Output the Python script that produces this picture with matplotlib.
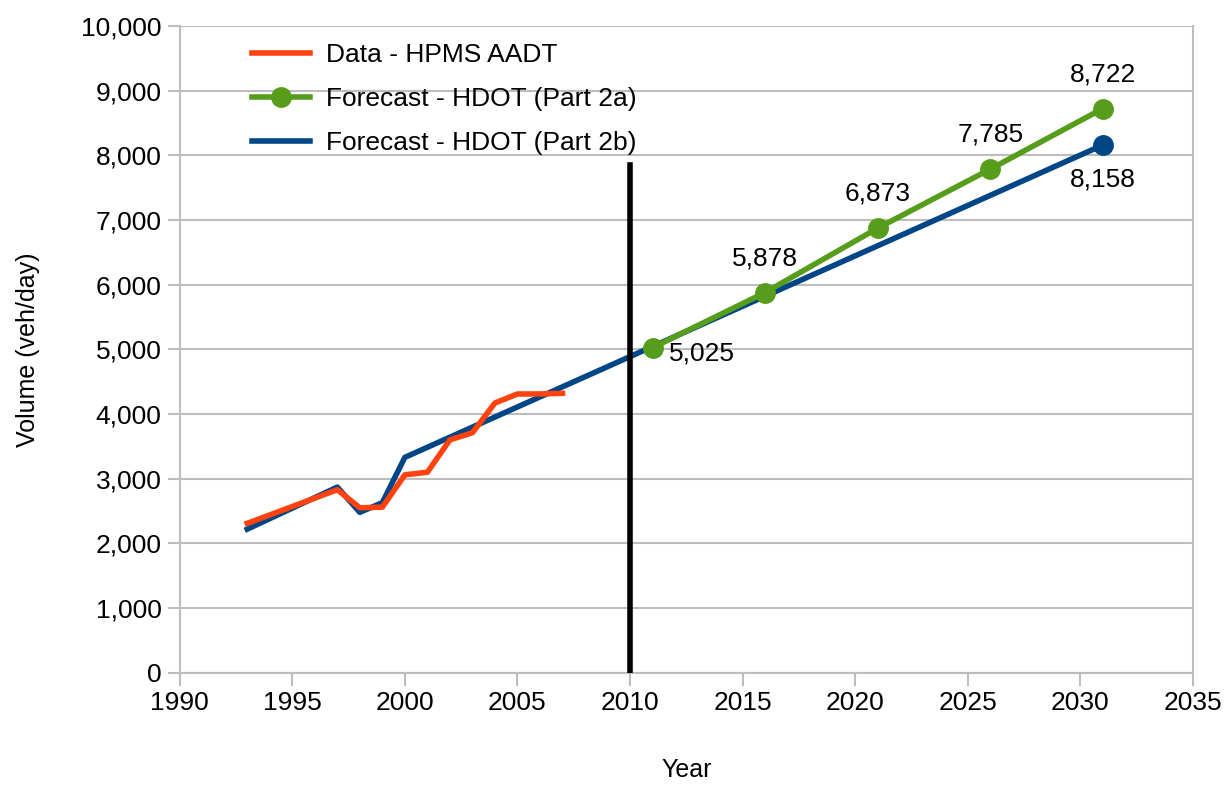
import matplotlib.pyplot as plt
from matplotlib.ticker import FuncFormatter, MultipleLocator

plt.rcParams['font.family'] = ['Liberation Sans', 'DejaVu Sans']

# HPMS AADT counts
data_years = [1993, 1994, 1995, 1996, 1997, 1998, 1999, 2000, 2001, 2002, 2003, 2004, 2005, 2006, 2007]
data_aadt = [2310, 2440, 2570, 2700, 2830, 2550, 2560, 3060, 3100, 3600, 3710, 4170, 4310, 4310, 4320]

# HDOT forecast, part 2a
fc_a_years = [2011, 2016, 2021, 2026, 2031]
fc_a_vol = [5025, 5878, 6873, 7785, 8722]

# HDOT forecast, part 2b
fc_b_years = [1993, 1997, 1998, 1999, 2000, 2031]
fc_b_vol = [2220, 2870, 2480, 2630, 3330, 8158]

red = '#ff420e'
green = '#579d1c'
blue = '#004586'
grey = '#bdbdbd'

fig = plt.figure(figsize=(12.31, 7.85), dpi=100)
ax = fig.add_axes([0.146, 0.143, 0.823, 0.824])

ax.plot(fc_b_years, fc_b_vol, color=blue, lw=4, label='Forecast - HDOT (Part 2b)', zorder=3)
ax.plot(fc_b_years[-1], fc_b_vol[-1], 'o', color=blue, ms=14, zorder=3)
ax.plot(data_years, data_aadt, color=red, lw=4, label='Data - HPMS AADT', zorder=4)
ax.plot(fc_a_years, fc_a_vol, color=green, lw=4, marker='o', ms=14,
        label='Forecast - HDOT (Part 2a)', zorder=5)

ax.plot([2010, 2010], [0, 7850], color='black', lw=4, zorder=6)

for x, y in zip(fc_a_years, fc_a_vol):
    if x == 2011:
        ax.annotate(f'{y:,}', (x, y), xytext=(12, -4), textcoords='offset points',
                    ha='left', va='center', fontsize=19)
    else:
        ax.annotate(f'{y:,}', (x, y), xytext=(0, 16), textcoords='offset points',
                    ha='center', va='bottom', fontsize=19)
ax.annotate(f'{fc_b_vol[-1]:,}', (fc_b_years[-1], fc_b_vol[-1]), xytext=(0, -16),
            textcoords='offset points', ha='center', va='top', fontsize=19)

ax.set_xlim(1990, 2035)
ax.set_ylim(0, 10000)
ax.xaxis.set_major_locator(MultipleLocator(5))
ax.yaxis.set_major_locator(MultipleLocator(1000))
ax.yaxis.set_major_formatter(FuncFormatter(lambda v, p: f'{int(v):,}'))
ax.tick_params(labelsize=19, color=grey, length=9, width=1.5, pad=4)
ax.grid(axis='y', color=grey, lw=1.5)
ax.set_axisbelow(True)
for s in ax.spines.values():
    s.set_color(grey)
    s.set_linewidth(1.5)
ax.spines['top'].set_visible(False)

ax.set_xlabel('Year', fontsize=18, labelpad=31)
ax.set_ylabel('Volume (veh/day)', fontsize=18, labelpad=30)

h, l = ax.get_legend_handles_labels()
order = [1, 2, 0]
ax.legend([h[i] for i in order], [l[i] for i in order], loc='upper left',
          bbox_to_anchor=(0.048, 1.01), frameon=False, fontsize=19,
          handlelength=2.2, handletextpad=0.6, labelspacing=0.75)

fig.savefig('out.png', dpi=100)
